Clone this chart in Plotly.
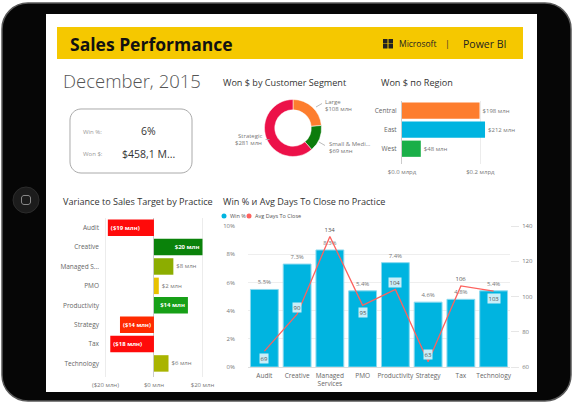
import plotly.graph_objects as go

W, H = 573, 404
FONT = "Open Sans"

# ---------------- data ----------------
report_title = "Sales Performance"
period = "December, 2015"
kpi_win = "6%"
kpi_won = "$458,1 M..."

segments = ["Large", "Small & Medium", "Strategic"]
segment_labels = ["Large", "Small & Medi...", "Strategic"]
segment_won = [108, 69, 281]
segment_colors = ["#FD7D2E", "#0C7C0C", "#EC1149"]

regions = ["Central", "East", "West"]
region_won = [198, 212, 48]
region_colors = ["#FD7D2E", "#00B4E0", "#1AAF48"]
region_ticks = [0, 200]
region_ticktext = ["$0.0 млрд", "$0.2 млрд"]

practices = ["Audit", "Creative", "Managed Services", "PMO", "Productivity",
             "Strategy", "Tax", "Technology"]
practice_short = ["Audit", "Creative", "Managed S...", "PMO", "Productivity",
                  "Strategy", "Tax", "Technology"]
practice_wrapped = ["Audit", "Creative", "Managed<br>Services", "PMO", "Productivity",
                    "Strategy", "Tax", "Technology"]
variance = [-19, 20, 8, 2, 14, -14, -18, 6]
variance_colors = ["#FF0A0A", "#0A820A", "#8CAD00", "#E8C200", "#17A017",
                   "#FF2A00", "#FF0A0A", "#A9B400"]
variance_ticks = [-20, 0, 20]
variance_ticktext = ["($20 млн)", "$0 млн", "$20 млн"]

win_pct = [5.5, 7.3, 8.3, 5.4, 7.4, 4.6, 4.8, 5.4]
avg_days = [69, 90, 134, 95, 104, 63, 106, 103]
days_label_side = [-1, 1, 1, -1, 1, 1, 1, -1]
win_ticks = [0, 2, 4, 6, 8, 10]
win_ticktext = ["0%", "2%", "4%", "6%", "8%", "10%"]
days_ticks = [60, 80, 100, 120, 140]


# ---------------- helpers ----------------
def fx(x):
    return x / W


def fy(y):
    return 1 - y / H


def rrect_path(x0, y0, x1, y1, r):
    k = 0.5523 * r

    def P(x, y):
        return f"{fx(x):.5f},{fy(y):.5f}"
    d = f"M{P(x0 + r, y0)} L{P(x1 - r, y0)} "
    d += f"C{P(x1 - r + k, y0)} {P(x1, y0 + r - k)} {P(x1, y0 + r)} "
    d += f"L{P(x1, y1 - r)} "
    d += f"C{P(x1, y1 - r + k)} {P(x1 - r + k, y1)} {P(x1 - r, y1)} "
    d += f"L{P(x0 + r, y1)} "
    d += f"C{P(x0 + r - k, y1)} {P(x0, y1 - r + k)} {P(x0, y1 - r)} "
    d += f"L{P(x0, y0 + r)} "
    d += f"C{P(x0, y0 + r - k)} {P(x0 + r - k, y0)} {P(x0 + r, y0)} Z"
    return d


shapes = []
annotations = []


def rect(x0, y0, x1, y1, fill, line=None, lw=0, layer="below"):
    shapes.append(dict(type="rect", xref="paper", yref="paper",
                       x0=fx(x0), x1=fx(x1), y0=fy(y1), y1=fy(y0),
                       fillcolor=fill, line=dict(color=line or fill, width=lw),
                       layer=layer))


def text(x, y, s, size=8, color="#333", anchor="left", bold=False, family=FONT):
    annotations.append(dict(xref="paper", yref="paper", x=fx(x), y=fy(y),
                            text=f"<b>{s}</b>" if bold else s, showarrow=False,
                            xanchor=anchor, yanchor="middle",
                            font=dict(family=family, size=size, color=color)))


def line(x0, y0, x1, y1, color="#aaa", w=0.8):
    shapes.append(dict(type="line", xref="paper", yref="paper",
                       x0=fx(x0), x1=fx(x1), y0=fy(y0), y1=fy(y1),
                       line=dict(color=color, width=w), layer="above"))


# ---------------- tablet frame ----------------
shapes.append(dict(type="path", xref="paper", yref="paper",
                   path=rrect_path(2, 3, 571, 401, 26),
                   fillcolor="#060606", line=dict(color="#5a5a5a", width=1.5),
                   layer="below"))
rect(46, 14, 537, 392, "#FFFFFF")
shapes.append(dict(type="circle", xref="paper", yref="paper",
                   x0=fx(13), x1=fx(39), y0=fy(213), y1=fy(187),
                   fillcolor="#1c1c1c", line=dict(color="#2c2c2c", width=1),
                   layer="below"))
shapes.append(dict(type="path", xref="paper", yref="paper",
                   path=rrect_path(21.5, 195.5, 30.5, 204.5, 2.5),
                   fillcolor="rgba(0,0,0,0)", line=dict(color="#8a8a8a", width=1),
                   layer="below"))

# ---------------- header ----------------
rect(57, 27, 523, 59, "#F5C800")
text(68, 44, report_title, size=17.5, color="#111", bold=True)
for (a, b) in [(383, 39), (388.5, 39), (383, 44), (388.5, 44)]:
    rect(a, b, a + 4.5, b + 4.5, "#222222")
text(397, 44, "Microsoft", size=8.5, color="#222")
text(447, 43.5, "|", size=9, color="#333", anchor="center")
text(461, 44, "Power BI", size=10.5, color="#222")

# ---------------- period + KPI card ----------------
text(61, 81, period, size=18.5, color="#555", family="Open Sans Light, Open Sans")
shapes.append(dict(type="path", xref="paper", yref="paper",
                   path=rrect_path(70, 109, 192, 173, 11),
                   fillcolor="#FFFFFF", line=dict(color="#aaaaaa", width=1),
                   layer="below"))
text(81, 132, "Win %:", size=6, color="#999")
text(148, 131.5, kpi_win, size=10.5, color="#333", anchor="center")
text(81, 154, "Won $:", size=6, color="#999")
text(120, 153.5, kpi_won, size=10.5, color="#333")

# ---------------- titles ----------------
text(221, 83, "Won $ by Customer Segment", size=9.1, color="#333")
text(379, 83, "Won $ по Region", size=9.1, color="#333")
text(61, 201, "Variance to Sales Target by Practice", size=9.1, color="#333")
text(221, 201, "Win % и Avg Days To Close по Practice", size=9.1, color="#333")

# ---------------- donut labels ----------------
text(323, 101.5, segment_labels[0], size=6, color="#777")
text(323, 108.5, f"${segment_won[0]} млн", size=6, color="#777")
line(316, 107, 322, 103.5)
text(327, 144, segment_labels[1], size=6, color="#777")
text(327, 151, f"${segment_won[1]} млн", size=6, color="#777")
line(319, 142, 325, 145.5)
text(264, 136, segment_labels[2], size=6, color="#777", anchor="right")
text(264, 143, f"${segment_won[2]} млн", size=6, color="#777", anchor="right")
line(265.5, 139.5, 269.5, 139.5)

# ---------------- combo legend ----------------
shapes.append(dict(type="circle", xref="paper", yref="paper", x0=fx(221.5), x1=fx(226.5),
                   y0=fy(218.5), y1=fy(213.5), fillcolor="#00B4E0",
                   line=dict(width=0), layer="above"))
text(227.5, 216, "Win %", size=5.5, color="#555")
shapes.append(dict(type="circle", xref="paper", yref="paper", x0=fx(246.5), x1=fx(251.5),
                   y0=fy(218.5), y1=fy(213.5), fillcolor="#FD625E",
                   line=dict(width=0), layer="above"))
text(252.5, 216, "Avg Days To Close", size=5.5, color="#555")

fig = go.Figure()

# donut
fig.add_trace(go.Pie(labels=segments, values=segment_won, hole=0.64, sort=False,
                     direction="clockwise", rotation=0, textinfo="none",
                     marker=dict(colors=segment_colors, line=dict(color="#fff", width=0.5)),
                     domain=dict(x=[fx(264.5), fx(321.5)], y=[fy(156.5), fy(99.5)]),
                     showlegend=False, hoverinfo="label+value", automargin=False))

# region bars
fig.add_trace(go.Bar(y=regions, x=region_won, orientation="h",
                     marker=dict(color=region_colors, line=dict(width=0)),
                     text=[f"${v} млн" for v in region_won], textposition="outside",
                     textfont=dict(size=6, color="#777", family=FONT),
                     cliponaxis=False, xaxis="x", yaxis="y", showlegend=False))

# variance bars
var_pos = ["inside" if abs(v) >= 10 else "outside" for v in variance]
var_txt = [f"(${-v} млн)" if v < 0 else f"${v} млн" for v in variance]
var_txt = [f"<b>{t}</b>" if p == "inside" else t for t, p in zip(var_txt, var_pos)]
fig.add_trace(go.Bar(y=practice_short, x=variance, orientation="h",
                     marker=dict(color=variance_colors, line=dict(width=0)),
                     text=var_txt, textposition=var_pos, insidetextanchor="end",
                     insidetextfont=dict(size=6, color="#fff", family=FONT),
                     outsidetextfont=dict(size=6, color="#777", family=FONT),
                     textangle=0, cliponaxis=False,
                     xaxis="x2", yaxis="y2", showlegend=False))

# combo bars
fig.add_trace(go.Bar(x=practice_wrapped, y=win_pct,
                     marker=dict(color="#00B4E0", line=dict(color="#8ad9ef", width=1)),
                     text=[f"{v}%" for v in win_pct], textposition="outside",
                     textfont=dict(size=6, color="#777", family=FONT),
                     cliponaxis=False, xaxis="x3", yaxis="y3", showlegend=False))
fig.add_trace(go.Scatter(x=practice_wrapped, y=avg_days, mode="lines",
                         line=dict(color="#FD625E", width=1.3),
                         xaxis="x3", yaxis="y4", showlegend=False))

# line labels
for cat, d, w, side in zip(practice_wrapped, avg_days, win_pct, days_label_side):
    bar_top = 60 + w * 8
    boxed = d + side * 6 < bar_top
    annotations.append(dict(xref="x3", yref="y4", x=cat, y=d, text=str(d),
                            showarrow=False, yshift=side * 7,
                            font=dict(size=6, color="#555", family=FONT),
                            bgcolor="#C9EEF8" if boxed else "rgba(0,0,0,0)",
                            borderpad=0.5))

tickfont = dict(size=6, color="#777", family=FONT)
catfont = dict(size=6.5, color="#666", family=FONT)

fig.update_layout(
    width=W, height=H, autosize=False,
    margin=dict(l=0, r=0, t=0, b=0, pad=0),
    paper_bgcolor="#FFFFFF", plot_bgcolor="rgba(0,0,0,0)",
    font=dict(family=FONT),
    bargap=0.15, showlegend=False,
    shapes=shapes, annotations=annotations,
    xaxis=dict(domain=[fx(402), fx(496)], range=[0, 240], anchor="y",
               tickvals=region_ticks, ticktext=region_ticktext, tickfont=tickfont,
               showgrid=True, gridcolor="#ececec", zeroline=False, showline=False,
               ticklabelstandoff=3, automargin=False),
    yaxis=dict(domain=[fy(164), fy(101)], range=[2.8, -0.5], anchor="x",
               type="category", categoryorder="array", categoryarray=regions,
               tickfont=catfont, showline=True, linecolor="#cccccc", linewidth=1,
               ticklabelstandoff=3, showgrid=False, zeroline=False, automargin=False),
    xaxis2=dict(domain=[fx(103), fx(210)], range=[-21.0, 23.1], anchor="y2",
                tickvals=variance_ticks, ticktext=variance_ticktext, tickfont=tickfont,
                showgrid=True, gridcolor="#ececec", zeroline=True,
                zerolinecolor="#cccccc", zerolinewidth=1, ticklabelstandoff=3,
                automargin=False),
    yaxis2=dict(domain=[fy(377), fy(218)], range=[7.7, -0.5], anchor="x2",
                type="category", categoryorder="array", categoryarray=practice_short,
                tickfont=catfont, showgrid=False, zeroline=False,
                ticklabelstandoff=3, automargin=False),
    xaxis3=dict(domain=[fx(248), fx(510)], range=[-0.5, 7.5], anchor="y3",
                type="category", tickfont=catfont, showgrid=False, tickangle=0,
                showline=True, linecolor="#dddddd", ticklabelstandoff=2,
                automargin=False),
    yaxis3=dict(domain=[fy(367), fy(226)], range=[0, 10], anchor="x3",
                tickvals=win_ticks, ticktext=win_ticktext, tickfont=tickfont,
                showgrid=True, gridcolor="#eeeeee", zeroline=False,
                ticklabelstandoff=12, automargin=False),
    yaxis4=dict(domain=[fy(367), fy(226)], range=[60, 140], anchor="x3",
                overlaying="y3", side="right", tickvals=days_ticks,
                tickfont=tickfont, showgrid=False, zeroline=False,
                ticks="outside", ticklen=8, tickcolor="#e6e6e6",
                ticklabelstandoff=2, automargin=False),
)

fig.write_html("out.html", config={"displayModeBar": False},
               post_script="document.body.style.margin='0';"
                           "document.body.style.overflow='hidden';")
